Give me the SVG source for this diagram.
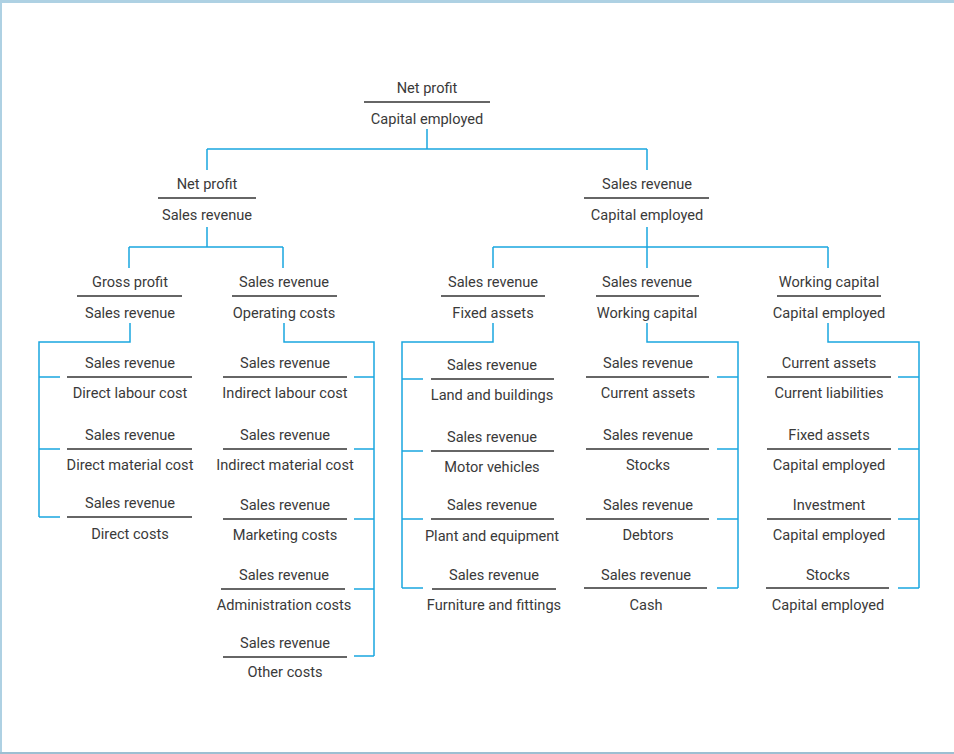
<svg xmlns="http://www.w3.org/2000/svg" width="954" height="754" viewBox="0 0 954 754">
<style>
text{font-family:Roboto,"Open Sans","Liberation Sans",sans-serif;font-size:14.6px;fill:#3a3a3a;text-anchor:middle}
.fl{stroke:#333;stroke-width:1.4;fill:none}
.c{stroke:#1aa6e0;stroke-width:1.5;fill:none}
</style>
<rect x="0" y="0" width="954" height="754" fill="#fff"/>
<rect x="0" y="0" width="954" height="3" fill="#aed1e3"/>
<rect x="0" y="0" width="2" height="754" fill="#aed1e3"/>
<rect x="0" y="752" width="954" height="2" fill="#9dbfd2"/>
<g id="connectors" class="c">
<path d="M427,129V149M207,149H647M207,149V170M647,149V170"/>
<path d="M207,227V247M129,247H283M129,247V268M283,247V268"/>
<path d="M647,227V247M493,247H828M493,247V268M647,247V268M828,247V268"/>
<path d="M130,323V342H39V517M39,377H60M39,449H60M39,517H60"/>
<path d="M284,323V342H374V656M354,377H374M354,449H374M354,519H374M354,589H374M354,656H374"/>
<path d="M493,323V342H402V588M402,379H423M402,451H423M402,519H423M402,588H423"/>
<path d="M647,323V342H738V588M717,377H738M717,449H738M717,519H738M717,588H738"/>
<path d="M828,323V342H919V588M898,377H919M898,449H919M898,519H919M898,588H919"/>
</g>
<g id="n0"><text x="427" y="93">Net profit</text><path class="fl" d="M364,102H490"/><text x="427" y="124">Capital employed</text></g>
<g id="n1"><text x="207" y="189">Net profit</text><path class="fl" d="M158,198H256"/><text x="207" y="220">Sales revenue</text></g>
<g id="n2"><text x="647" y="189">Sales revenue</text><path class="fl" d="M584,198H709"/><text x="647" y="220">Capital employed</text></g>
<g id="n3"><text x="130" y="287">Gross profit</text><path class="fl" d="M77,296H182"/><text x="130" y="318">Sales revenue</text></g>
<g id="n4"><text x="284" y="287">Sales revenue</text><path class="fl" d="M232,296H337"/><text x="284" y="318">Operating costs</text></g>
<g id="n5"><text x="493" y="287">Sales revenue</text><path class="fl" d="M441,296H545"/><text x="493" y="318">Fixed assets</text></g>
<g id="n6"><text x="647" y="287">Sales revenue</text><path class="fl" d="M596,296H699"/><text x="647" y="318">Working capital</text></g>
<g id="n7"><text x="829" y="287">Working capital</text><path class="fl" d="M777,296H881"/><text x="829" y="318">Capital employed</text></g>
<g id="d1"><text x="130" y="368">Sales revenue</text><path class="fl" d="M67,377H192"/><text x="130" y="398">Direct labour cost</text></g>
<g id="d2"><text x="130" y="440">Sales revenue</text><path class="fl" d="M67,449H192"/><text x="130" y="470">Direct material cost</text></g>
<g id="d3"><text x="130" y="508">Sales revenue</text><path class="fl" d="M67,517H192"/><text x="130" y="539">Direct costs</text></g>
<g id="o1"><text x="285" y="368">Sales revenue</text><path class="fl" d="M223,377H347"/><text x="285" y="398">Indirect labour cost</text></g>
<g id="o2"><text x="285" y="440">Sales revenue</text><path class="fl" d="M223,449H347"/><text x="285" y="470">Indirect material cost</text></g>
<g id="o3"><text x="285" y="510">Sales revenue</text><path class="fl" d="M223,519H347"/><text x="285" y="540">Marketing costs</text></g>
<g id="o4"><text x="284" y="580">Sales revenue</text><path class="fl" d="M221,589H345"/><text x="284" y="610">Administration costs</text></g>
<g id="o5"><text x="285" y="648">Sales revenue</text><path class="fl" d="M223,657H347"/><text x="285" y="677">Other costs</text></g>
<g id="f1"><text x="492" y="370">Sales revenue</text><path class="fl" d="M431,379H554"/><text x="492" y="400">Land and buildings</text></g>
<g id="f2"><text x="492" y="442">Sales revenue</text><path class="fl" d="M431,451H554"/><text x="492" y="472">Motor vehicles</text></g>
<g id="f3"><text x="492" y="510">Sales revenue</text><path class="fl" d="M431,519H554"/><text x="492" y="541">Plant and equipment</text></g>
<g id="f4"><text x="494" y="580">Sales revenue</text><path class="fl" d="M432,589H556"/><text x="494" y="610">Furniture and fittings</text></g>
<g id="w1"><text x="648" y="368">Sales revenue</text><path class="fl" d="M586,377H709"/><text x="648" y="398">Current assets</text></g>
<g id="w2"><text x="648" y="440">Sales revenue</text><path class="fl" d="M586,449H709"/><text x="648" y="470">Stocks</text></g>
<g id="w3"><text x="648" y="510">Sales revenue</text><path class="fl" d="M586,519H709"/><text x="648" y="540">Debtors</text></g>
<g id="w4"><text x="646" y="580">Sales revenue</text><path class="fl" d="M584,588H707"/><text x="646" y="610">Cash</text></g>
<g id="r1"><text x="829" y="368">Current assets</text><path class="fl" d="M767,377H891"/><text x="829" y="398">Current liabilities</text></g>
<g id="r2"><text x="829" y="440">Fixed assets</text><path class="fl" d="M767,449H891"/><text x="829" y="470">Capital employed</text></g>
<g id="r3"><text x="829" y="510">Investment</text><path class="fl" d="M767,519H891"/><text x="829" y="540">Capital employed</text></g>
<g id="r4"><text x="828" y="580">Stocks</text><path class="fl" d="M766,588H889"/><text x="828" y="610">Capital employed</text></g>
</svg>
